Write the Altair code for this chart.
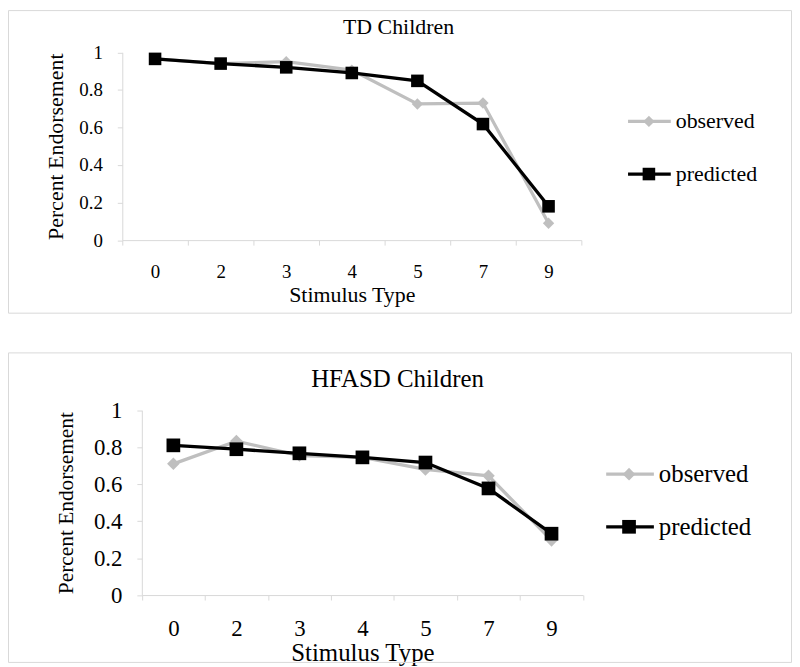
import altair as alt
import pandas as pd

# ---- data ----
stimulus = ["0", "2", "3", "4", "5", "7", "9"]
series_names = ["observed", "predicted"]
td_observed = [0.965, 0.94, 0.95, 0.905, 0.725, 0.73, 0.09]
td_predicted = [0.965, 0.94, 0.92, 0.89, 0.848, 0.618, 0.18]
hf_observed = [0.71, 0.833, 0.755, 0.745, 0.68, 0.645, 0.296]
hf_predicted = [0.81, 0.789, 0.767, 0.745, 0.717, 0.577, 0.332]
panel_titles = ["TD Children", "HFASD Children"]
x_title = "Stimulus Type"
y_title = "Percent Endorsement"
y_ticks = [0, 0.2, 0.4, 0.6, 0.8, 1]

FONT = "Liberation Serif, Times New Roman, DejaVu Serif, serif"
GRAY = "#bfbfbf"
BLACK = "#000000"
AXIS_GRAY = "#d9d9d9"
BORDER = "#d9d9d9"
series_colors = [GRAY, BLACK]
series_shapes = ["diamond", "square"]

W, H = 789, 657  # whole drawing (page 8..797, 8..665)


def make_df(obs, pred):
    rows = []
    for s, o, p in zip(stimulus, obs, pred):
        rows.append({"stim": s, "series": series_names[0], "value": o})
        rows.append({"stim": s, "series": series_names[1], "value": p})
    return pd.DataFrame(rows)


def panel(title, obs, pred, L):
    xa, xb = L["xrange"]
    ytop, ybot = L["yrange"]
    df = make_df(obs, pred)
    one = pd.DataFrame({"k": [0]})

    xenc = alt.X(
        "stim:N",
        sort=stimulus,
        scale=alt.Scale(type="band", domain=stimulus, paddingInner=0, paddingOuter=0, range=[xa, xb]),
        axis=alt.Axis(
            orient="bottom", offset=ybot - H,
            title=x_title, labelAngle=0, tickBand="extent", tickSize=5,
            tickColor=AXIS_GRAY, domainColor=AXIS_GRAY, labelFont=FONT,
            labelFontSize=L["tick_fs"], labelColor=BLACK, labelPadding=L["xlabpad"],
            titleFont=FONT, titleFontSize=L["xtitle_fs"], titleFontWeight="normal",
            titleColor=BLACK, titlePadding=L["xtitlepad"], grid=False,
        ),
    )
    yenc = alt.Y(
        "value:Q",
        scale=alt.Scale(domain=[0, 1], nice=False, range=[ybot, ytop]),
        axis=alt.Axis(
            orient="left", offset=-xa,
            title=y_title, values=y_ticks, format="~g", tickSize=5,
            tickColor=AXIS_GRAY, domainColor=AXIS_GRAY, labelFont=FONT,
            labelFontSize=L["tick_fs"], labelColor=BLACK, labelPadding=L["ylabpad"],
            titleFont=FONT, titleFontSize=L["ytitle_fs"], titleFontWeight="normal",
            titleColor=BLACK, titlePadding=L["ytitlepad"], grid=False,
        ),
    )

    bx1, by1, bx2, by2 = L["border"]
    layers = [
        alt.Chart(one).mark_rect(fillOpacity=0, stroke=BORDER, strokeWidth=1).encode(
            x=alt.value(bx1), x2=alt.value(bx2), y=alt.value(by1), y2=alt.value(by2),
        )
    ]
    for name, col, shp, sz in zip(series_names, series_colors, series_shapes, L["sizes"]):
        base = alt.Chart(df).transform_filter(alt.datum.series == name)
        layers.append(base.mark_line(color=col, strokeWidth=3.3).encode(x=xenc, y=yenc))
        layers.append(
            base.mark_point(shape=shp, filled=True, size=sz, color=col, opacity=1).encode(x=xenc, y=yenc)
        )
    tx, ty = L["title"]
    layers.append(
        alt.Chart(one).mark_text(
            text=title, font=FONT, fontSize=L["title_fs"], align="center", baseline="middle", color=BLACK
        ).encode(x=alt.value(tx), y=alt.value(ty))
    )
    lx1, lxm, lx2, ltx = L["legend_x"]
    for name, col, shp, sz, ly in zip(series_names, series_colors, series_shapes, L["sizes"], L["legend_y"]):
        layers.append(
            alt.Chart(one).mark_rule(color=col, strokeWidth=3.3).encode(
                x=alt.value(lx1), x2=alt.value(lx2), y=alt.value(ly)
            )
        )
        layers.append(
            alt.Chart(one).mark_point(shape=shp, filled=True, size=sz, color=col, opacity=1).encode(
                x=alt.value(lxm), y=alt.value(ly)
            )
        )
        layers.append(
            alt.Chart(one).mark_text(
                text=name, font=FONT, fontSize=L["legend_fs"], align="left", baseline="middle", color=BLACK
            ).encode(x=alt.value(ltx), y=alt.value(ly))
        )
    return alt.layer(*layers)


# positions below are in drawing pixels (page pixels minus the 8px page margin)
top_layout = {
    "xrange": (115, 577),
    "yrange": (42.5, 231.5),
    "border": (0.5, 0.5, 788.5, 305),
    "title": (393, 17),
    "legend_x": (624, 645, 667, 672),
    "legend_y": (112, 165),
    "tick_fs": 19, "xtitle_fs": 22, "ytitle_fs": 22, "title_fs": 22, "legend_fs": 22,
    "xlabpad": 18, "xtitlepad": 3, "ylabpad": 15, "ytitlepad": 11,
    "sizes": (130, 160),
}
bottom_layout = {
    "xrange": (134.7, 578.7),
    "yrange": (402.7, 588.7),
    "border": (0.5, 345, 788.5, 656.5),
    "title": (392, 371),
    "legend_x": (602, 625, 650, 655),
    "legend_y": (467, 520),
    "tick_fs": 23, "xtitle_fs": 25, "ytitle_fs": 21.5, "title_fs": 25, "legend_fs": 25,
    "xlabpad": 18, "xtitlepad": 0, "ylabpad": 15, "ytitlepad": 16,
    "sizes": (160, 190),
}

top = panel(panel_titles[0], td_observed, td_predicted, top_layout)
bottom = panel(panel_titles[1], hf_observed, hf_predicted, bottom_layout)

chart = (
    alt.layer(top, bottom)
    .resolve_scale(x="independent", y="independent")
    .properties(width=W, height=H, padding=0, background="white")
    .configure_view(strokeWidth=0)
)

chart.save("out.html", embed_options={"renderer": "svg", "actions": False})
